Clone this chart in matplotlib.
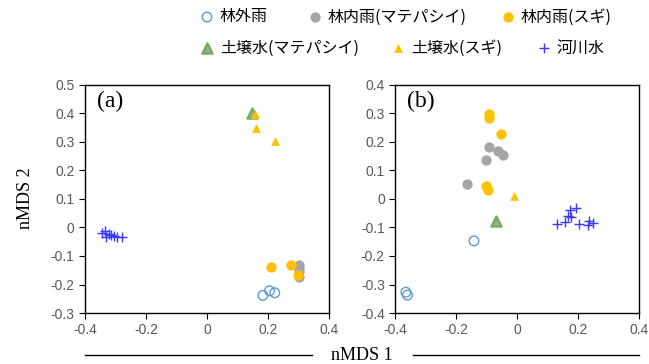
import matplotlib
matplotlib.use("Agg")
import matplotlib.pyplot as plt

JP = ["Noto Sans CJK JP", "DejaVu Sans"]
SANS = ["Liberation Sans", "DejaVu Sans"]
SERIF = ["Liberation Serif", "DejaVu Serif"]

# panel (a)
a_open = {"x": [0.183, 0.205, 0.222], "y": [-0.238, -0.222, -0.229]}
a_gray = {"x": [0.300, 0.301, 0.300, 0.302], "y": [-0.130, -0.142, -0.152, -0.172]}
a_sugi = {"x": [0.209, 0.276, 0.299], "y": [-0.137, -0.133, -0.165]}
a_tri_mate = {"x": [0.148], "y": [0.402]}
a_tri_sugi = {"x": [0.156, 0.162, 0.222], "y": [0.396, 0.348, 0.302]}
a_river = {"x": [-0.345, -0.335, -0.332, -0.323, -0.316, -0.305, -0.294, -0.279],
           "y": [-0.020, -0.011, -0.034, -0.022, -0.027, -0.029, -0.032, -0.034]}

# panel (b)
b_open = {"x": [-0.142, -0.365, -0.360], "y": [-0.147, -0.327, -0.337]}
b_gray = {"x": [-0.093, -0.062, -0.046, -0.104, -0.164], "y": [0.182, 0.167, 0.154, 0.135, 0.054]}
b_sugi = {"x": [-0.094, -0.094, -0.052, -0.104, -0.097], "y": [0.299, 0.285, 0.228, 0.047, 0.032]}
b_tri_mate = {"x": [-0.071], "y": [-0.076]}
b_tri_sugi = {"x": [-0.012], "y": [0.009]}
b_river = {"x": [0.130, 0.156, 0.173, 0.192, 0.168, 0.175, 0.202, 0.231, 0.236, 0.247],
           "y": [-0.087, -0.081, -0.038, -0.031, -0.060, -0.063, -0.089, -0.093, -0.078, -0.085]}

labels = ["林外雨", "林内雨(マテパシイ)", "林内雨(スギ)",
          "土壌水(マテパシイ)", "土壌水(スギ)", "河川水"]

STYLES = [
    dict(marker="o", s=48, facecolors="none", edgecolors="#5b9bd5", linewidths=1.0),
    dict(marker="o", s=55, color="#a5a5a5", linewidths=0),
    dict(marker="o", s=55, color="#ffc000", linewidths=0),
    dict(marker="^", s=55, facecolors="#a5a5a5", edgecolors="#70ad47", linewidths=1.5),
    dict(marker="^", s=40, color="#ffc000", linewidths=0),
    dict(marker="+", s=55, color="#3a3aff", linewidths=1.0),
]


def draw_panel(ax, groups, ylim, tag):
    for g, st in zip(groups, STYLES):
        ax.scatter(g["x"], g["y"], zorder=3, **st)
    ax.set_xlim(-0.4, 0.4)
    ax.set_ylim(*ylim)
    ax.set_xticks([-0.4, -0.2, 0, 0.2, 0.4])
    ax.set_xticklabels(["-0.4", "-0.2", "0", "0.2", "0.4"])
    yt = [round(ylim[0] + 0.1 * i, 1) for i in range(int(round((ylim[1] - ylim[0]) / 0.1)) + 1)]
    ax.set_yticks(yt)
    ax.set_yticklabels(["0" if v == 0 else f"{v:g}" for v in yt])
    ax.tick_params(direction="out", length=4, width=0.8, colors="black",
                   labelcolor="#595959", labelsize=10)
    for lab in ax.get_xticklabels() + ax.get_yticklabels():
        lab.set_family(SANS)
    for sp in ax.spines.values():
        sp.set_linewidth(1.0)
        sp.set_color("black")
    ax.text(0.05, 0.975, tag, transform=ax.transAxes, fontsize=17,
            family=SERIF, va="top", ha="left")


fig = plt.figure(figsize=(6.49, 3.64), dpi=100)
ax_a = fig.add_axes([0.131, 0.140, 0.376, 0.627])
ax_b = fig.add_axes([0.609, 0.140, 0.376, 0.627])

draw_panel(ax_a, [a_open, a_gray, a_sugi, a_tri_mate, a_tri_sugi, a_river], (-0.3, 0.5), "(a)")
draw_panel(ax_b, [b_open, b_gray, b_sugi, b_tri_mate, b_tri_sugi, b_river], (-0.4, 0.4), "(b)")

# overlay in pixel-like coords for legend and shared axis title
ov = fig.add_axes([0, 0, 1, 1], facecolor="none")
ov.set_xlim(0, 649)
ov.set_ylim(364, 0)
ov.axis("off")

leg_pos = [(207, 17), (315, 17), (508, 17), (207, 48), (398, 48), (544, 48)]
for (px, py), lab, st in zip(leg_pos, labels, STYLES):
    ov.scatter([px], [py], clip_on=False, **st)
    ov.text(px + 13, py, lab, family=JP, fontsize=11.5, va="center", ha="left")

ov.plot([85, 312], [355, 355], color="black", lw=1.0, clip_on=False)
ov.plot([413, 639], [355, 355], color="black", lw=1.0, clip_on=False)
ov.text(362, 355, "nMDS 1", family=SERIF, fontsize=13, ha="center", va="center")
ov.text(25, 198, "nMDS 2", family=SERIF, fontsize=13, ha="center", va="center",
        rotation=90)

fig.savefig("out.png", dpi=100)
